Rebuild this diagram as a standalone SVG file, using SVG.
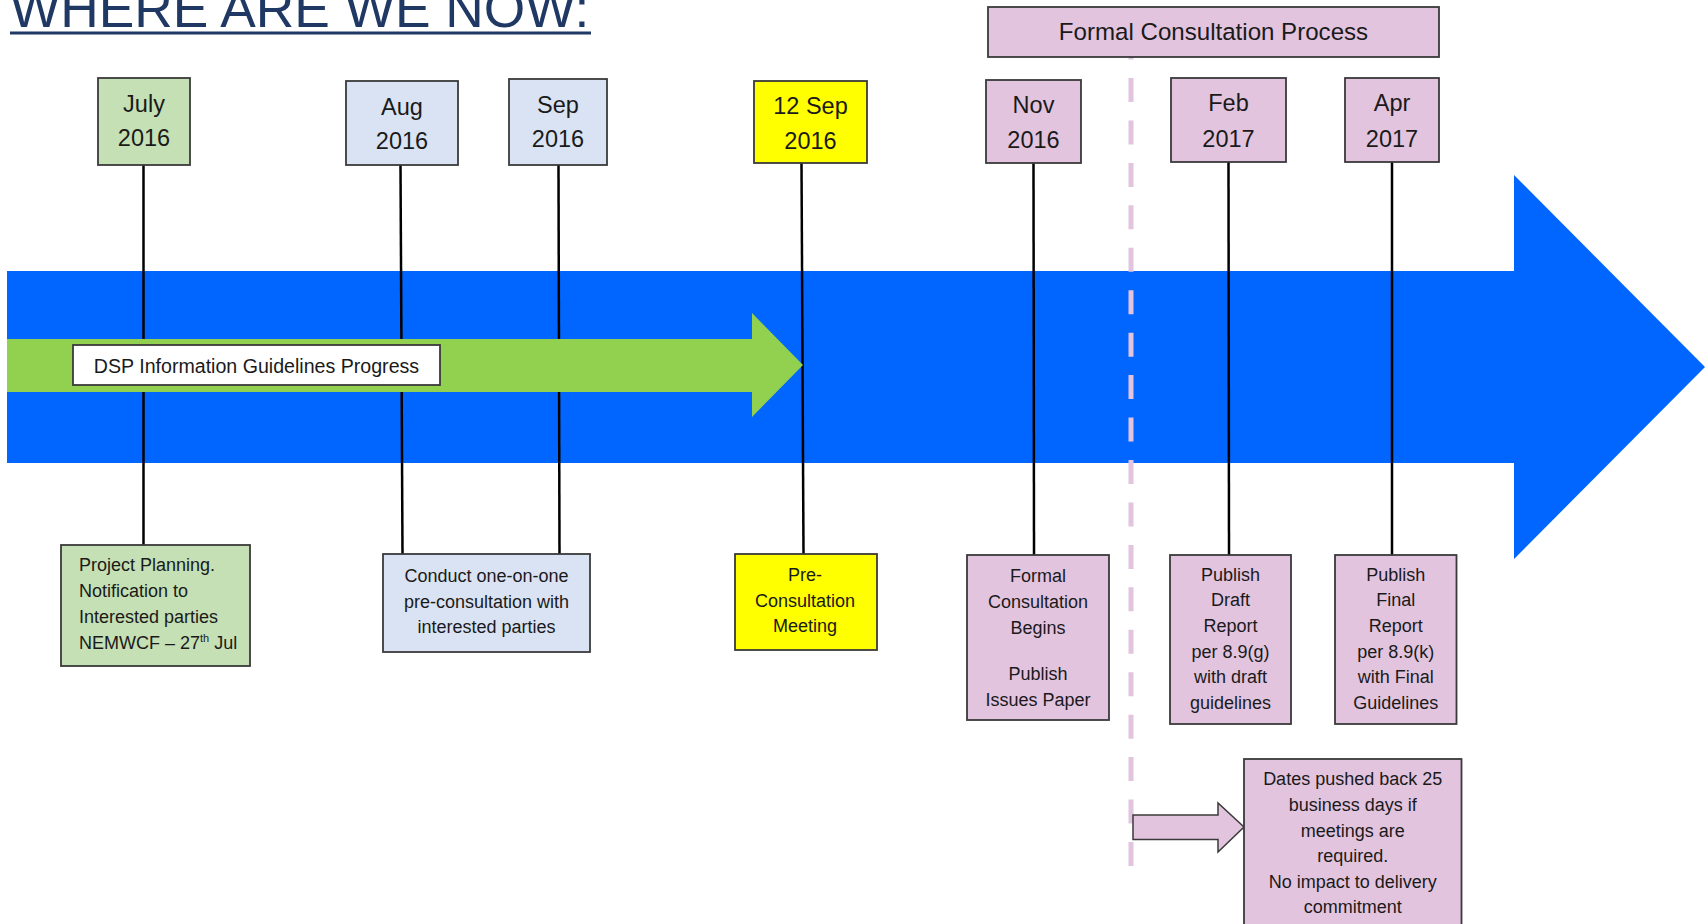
<svg xmlns="http://www.w3.org/2000/svg" width="1705" height="924" viewBox="0 0 1705 924">
<style>
.box{stroke:#3a3a3a;stroke-width:1.8}
.pink{fill:#E2C4DF}.lblue{fill:#DAE3F3}.lgreen{fill:#C5E0B4}.yellow{fill:#FFFF00}.white{fill:#FFFFFF}
.date{font-family:"Liberation Sans",Arial,sans-serif;font-size:23.5px;fill:#1a1a1a;text-anchor:middle}
.body{font-family:"Liberation Sans",Arial,sans-serif;font-size:18px;fill:#1a1a1a;text-anchor:middle}
.conn{stroke:#000;stroke-width:2.5;fill:none}
</style>
<rect width="1705" height="924" fill="#ffffff"/>
<g id="title">
<text x="10" y="27" font-family="'Liberation Sans',Arial,sans-serif" font-size="53.3" fill="#1F3864">WHERE ARE WE NOW:</text>
<rect x="10" y="31.5" width="581" height="3" fill="#1F3864"/>
</g>
<g id="timeline-arrow"><polygon points="7,271 1514,271 1514,175 1705,367 1514,559 1514,463 7,463" fill="#0066FF"/></g>
<g id="connectors">
<line class="conn" x1="143.5" y1="165" x2="143.5" y2="545"/>
<line class="conn" x1="400.5" y1="165" x2="402.5" y2="554"/>
<line class="conn" x1="558.5" y1="165" x2="559.5" y2="554"/>
<line class="conn" x1="801.5" y1="163" x2="803.5" y2="554"/>
<line class="conn" x1="1033.5" y1="163" x2="1034" y2="555"/>
<line class="conn" x1="1228.5" y1="162" x2="1229" y2="555"/>
<line class="conn" x1="1392" y1="162" x2="1392" y2="555"/>
</g>
<g id="progress-arrow"><polygon points="7,339 752,339 752,313 803,365 752,417 752,392 7,392" fill="#92D050"/></g>
<g id="progress-label">
<rect class="box white" x="73" y="345" width="367" height="40"/>
<text class="body" x="256.5" y="373" style="font-size:19.6px">DSP Information Guidelines Progress</text>
</g>
<g id="formal-divider"><line x1="1131" y1="35.6" x2="1131" y2="866" stroke="#E2C4DF" stroke-width="5" stroke-dasharray="24 18.44"/></g>
<g id="formal-process">
<rect class="box pink" x="988" y="7" width="451" height="50"/>
<text class="date" x="1213.5" y="40" style="font-size:24.1px">Formal Consultation Process</text>
</g>
<g id="jul2016"><rect class="box lgreen" x="98" y="78" width="92" height="87"/><text class="date" x="144" y="112">July</text><text class="date" x="144" y="146">2016</text></g>
<g id="aug2016"><rect class="box lblue" x="346" y="81" width="112" height="84"/><text class="date" x="402" y="115">Aug</text><text class="date" x="402" y="149">2016</text></g>
<g id="sep2016"><rect class="box lblue" x="509" y="79" width="98" height="86"/><text class="date" x="558" y="113">Sep</text><text class="date" x="558" y="147">2016</text></g>
<g id="sep12-2016"><rect class="box yellow" x="754" y="81" width="113" height="82"/><text class="date" x="810.5" y="114">12 Sep</text><text class="date" x="810.5" y="149">2016</text></g>
<g id="nov2016"><rect class="box pink" x="986" y="80" width="95" height="83"/><text class="date" x="1033.5" y="113">Nov</text><text class="date" x="1033.5" y="148">2016</text></g>
<g id="feb2017"><rect class="box pink" x="1171" y="78" width="115" height="84"/><text class="date" x="1228.5" y="111">Feb</text><text class="date" x="1228.5" y="147">2017</text></g>
<g id="apr2017"><rect class="box pink" x="1345" y="78" width="94" height="84"/><text class="date" x="1392" y="111">Apr</text><text class="date" x="1392" y="147">2017</text></g>
<g id="project-planning">
<rect class="box lgreen" x="61" y="545" width="189" height="121"/>
<text class="body" style="text-anchor:start" x="79" y="571">Project Planning.</text>
<text class="body" style="text-anchor:start" x="79" y="597">Notification to</text>
<text class="body" style="text-anchor:start" x="79" y="623">Interested parties</text>
<text class="body" style="text-anchor:start" x="79" y="649">NEMWCF – 27<tspan style="font-size:11px" dy="-7">th</tspan><tspan dy="7"> Jul</tspan></text>
</g>
<g id="pre-consultation-one-on-one">
<rect class="box lblue" x="383" y="554" width="207" height="98"/>
<text class="body" x="486.5" y="582">Conduct one-on-one</text>
<text class="body" x="486.5" y="607.5">pre-consultation with</text>
<text class="body" x="486.5" y="633">interested parties</text>
</g>
<g id="pre-consultation-meeting">
<rect class="box yellow" x="735" y="554" width="142" height="96"/>
<text class="body" x="805" y="581">Pre-</text>
<text class="body" x="805" y="607">Consultation</text>
<text class="body" x="805" y="632">Meeting</text>
</g>
<g id="formal-begins">
<rect class="box pink" x="967" y="555" width="142" height="165"/>
<text class="body" x="1038" y="582">Formal</text>
<text class="body" x="1038" y="608">Consultation</text>
<text class="body" x="1038" y="634">Begins</text>
<text class="body" x="1038" y="680">Publish</text>
<text class="body" x="1038" y="706">Issues Paper</text>
</g>
<g id="draft-report">
<rect class="box pink" x="1170" y="555" width="121" height="169"/>
<text class="body" x="1230.5" y="580.5">Publish</text>
<text class="body" x="1230.5" y="606">Draft</text>
<text class="body" x="1230.5" y="632">Report</text>
<text class="body" x="1230.5" y="657.5">per 8.9(g)</text>
<text class="body" x="1230.5" y="683">with draft</text>
<text class="body" x="1230.5" y="709">guidelines</text>
</g>
<g id="final-report">
<rect class="box pink" x="1335" y="555" width="121.5" height="169"/>
<text class="body" x="1395.7" y="580.5">Publish</text>
<text class="body" x="1395.7" y="606">Final</text>
<text class="body" x="1395.7" y="632">Report</text>
<text class="body" x="1395.7" y="657.5">per 8.9(k)</text>
<text class="body" x="1395.7" y="683">with Final</text>
<text class="body" x="1395.7" y="709">Guidelines</text>
</g>
<g id="delay-arrow"><polygon class="box pink" style="stroke-width:1.5" points="1133,815 1218,815 1218,803 1244,827 1218,852 1218,839.5 1133,839.5"/></g>
<g id="delay-note">
<rect class="box pink" x="1244" y="759" width="217.5" height="180"/>
<text class="body" x="1352.7" y="785">Dates pushed back 25</text>
<text class="body" x="1352.7" y="811">business days if</text>
<text class="body" x="1352.7" y="837">meetings are</text>
<text class="body" x="1352.7" y="862">required.</text>
<text class="body" x="1352.7" y="888">No impact to delivery</text>
<text class="body" x="1352.7" y="913">commitment</text>
</g>
</svg>
